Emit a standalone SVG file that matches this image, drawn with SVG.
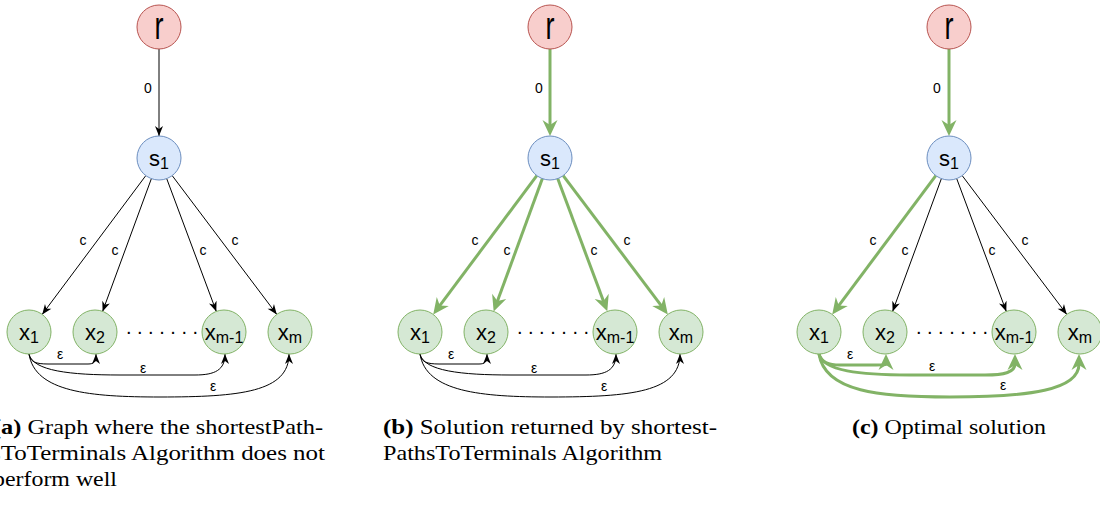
<svg xmlns="http://www.w3.org/2000/svg" width="1100" height="505" viewBox="0 0 1100 505">
<style>
  .node-r { fill: #f8cecc; stroke: #b85450; stroke-width: 1; }
  .node-s { fill: #dae8fc; stroke: #6c8ebf; stroke-width: 1; }
  .node-x { fill: #d5e8d4; stroke: #82b366; stroke-width: 1; }
  .lbl { font-family: "Liberation Sans", Arial, sans-serif; font-size: 22px; fill: #000; text-anchor: middle; }
  .big { font-size: 38px; }
  .dots { font-size: 20px; }
  .sub { font-size: 16px; }
  .elbl { font-family: "Liberation Sans", Arial, sans-serif; font-size: 14px; fill: #000; text-anchor: middle; }
  .e { fill: none; stroke: #000; stroke-width: 1; marker-end: url(#ah); }
  .eg { fill: none; stroke: #82b366; stroke-width: 3; marker-end: url(#ahg); }
  .cap { font-family: "Liberation Serif", "Times New Roman", serif; font-size: 21px; fill: #000; }
  .b { font-weight: bold; }
</style>
<defs>
  <!-- thin black arrowhead, tip at the path end -->
  <marker id="ah" markerUnits="userSpaceOnUse" markerWidth="12" markerHeight="10" viewBox="0 -5 12 10" refX="10" refY="0" orient="auto" overflow="visible">
    <path d="M0,-4 L10,0 L0,4 L3,0 Z" fill="#000"/>
  </marker>
  <!-- thick green arrowhead, tip 10px beyond the path end -->
  <marker id="ahg" markerUnits="userSpaceOnUse" markerWidth="18" markerHeight="16" viewBox="0 -8 18 16" refX="6" refY="0" orient="auto" overflow="visible">
    <path d="M0,-7.5 L16,0 L0,7.5 L5,0 Z" fill="#82b366"/>
  </marker>
</defs>

<!-- (a) input graph -->
<g id="panel-a">
  <g id="a-edges">
    <path class="e" d="M159,49 L159,136"/>
    <path class="e" d="M145.8,175.6 L42.2,314.4"/>
    <path class="e" d="M151.4,178.6 L102.6,311.4"/>
    <path class="e" d="M166.7,178.6 L216.3,311.4"/>
    <path class="e" d="M172.2,175.6 L276.8,314.4"/>
    <path class="e" d="M29,354 C30,362 36,364 48,364 L88,364 C94,364 96,362 96,354"/>
    <path class="e" d="M29,354 C33,371 70,375 120,375 L195,375 C215,375 225,370 225,354"/>
    <path class="e" d="M29,354 C35,392 90,397 160,397 C240,397 289,392 289,354"/>
    <text class="elbl" x="148" y="93">0</text>
    <text class="elbl" x="83" y="245">c</text>
    <text class="elbl" x="115" y="255">c</text>
    <text class="elbl" x="203" y="255">c</text>
    <text class="elbl" x="235" y="245">c</text>
    <text class="elbl" x="60" y="359">ε</text>
    <text class="elbl" x="143" y="373">ε</text>
    <text class="elbl" x="213" y="391">ε</text>
  </g>
  <g id="a-r"><circle class="node-r" cx="159" cy="27" r="22"/><text class="lbl big" x="159" y="39" textLength="9" lengthAdjust="spacingAndGlyphs">r</text></g>
  <g id="a-s1"><circle class="node-s" cx="159" cy="158" r="22"/><text class="lbl" x="159" y="166">s<tspan class="sub" dy="3">1</tspan></text></g>
  <g id="a-x1"><circle class="node-x" cx="29" cy="332" r="22"/><text class="lbl" x="29" y="340">x<tspan class="sub" dy="3">1</tspan></text></g>
  <g id="a-x2"><circle class="node-x" cx="95" cy="332" r="22"/><text class="lbl" x="95" y="340">x<tspan class="sub" dy="3">2</tspan></text></g>
  <g id="a-xm1"><circle class="node-x" cx="224" cy="332" r="22"/><text class="lbl" x="224" y="340">x<tspan class="sub" dy="3">m-1</tspan></text></g>
  <g id="a-xm"><circle class="node-x" cx="290" cy="332" r="22"/><text class="lbl" x="290" y="340">x<tspan class="sub" dy="3">m</tspan></text></g>
  <g id="a-dots"><text class="lbl dots" x="162" y="334">. . . . . . .</text></g>
</g>

<!-- (b) shortest paths to terminals -->
<g id="panel-b" transform="translate(391,0)">
  <g id="b-edges">
    <path class="eg" d="M159,49 L159,126"/>
    <path class="eg" d="M145.8,175.6 L48.2,306.4"/>
    <path class="eg" d="M151.4,178.6 L106.1,302"/>
    <path class="eg" d="M166.7,178.6 L212.8,302"/>
    <path class="eg" d="M172.2,175.6 L270.8,306.4"/>
    <path class="e" d="M29,354 C30,362 36,364 48,364 L88,364 C94,364 96,362 96,354"/>
    <path class="e" d="M29,354 C33,371 70,375 120,375 L195,375 C215,375 225,370 225,354"/>
    <path class="e" d="M29,354 C35,392 90,397 160,397 C240,397 289,392 289,354"/>
    <text class="elbl" x="148" y="93">0</text>
    <text class="elbl" x="84" y="245">c</text>
    <text class="elbl" x="116" y="255">c</text>
    <text class="elbl" x="203" y="255">c</text>
    <text class="elbl" x="236" y="245">c</text>
    <text class="elbl" x="60" y="359">ε</text>
    <text class="elbl" x="143" y="373">ε</text>
    <text class="elbl" x="213" y="391">ε</text>
  </g>
  <g id="b-r"><circle class="node-r" cx="159" cy="27" r="22"/><text class="lbl big" x="159" y="39" textLength="9" lengthAdjust="spacingAndGlyphs">r</text></g>
  <g id="b-s1"><circle class="node-s" cx="159" cy="158" r="22"/><text class="lbl" x="159" y="166">s<tspan class="sub" dy="3">1</tspan></text></g>
  <g id="b-x1"><circle class="node-x" cx="29" cy="332" r="22"/><text class="lbl" x="29" y="340">x<tspan class="sub" dy="3">1</tspan></text></g>
  <g id="b-x2"><circle class="node-x" cx="95" cy="332" r="22"/><text class="lbl" x="95" y="340">x<tspan class="sub" dy="3">2</tspan></text></g>
  <g id="b-xm1"><circle class="node-x" cx="224" cy="332" r="22"/><text class="lbl" x="224" y="340">x<tspan class="sub" dy="3">m-1</tspan></text></g>
  <g id="b-xm"><circle class="node-x" cx="290" cy="332" r="22"/><text class="lbl" x="290" y="340">x<tspan class="sub" dy="3">m</tspan></text></g>
  <g id="b-dots"><text class="lbl dots" x="162" y="334">. . . . . . .</text></g>
</g>

<!-- (c) optimal solution -->
<g id="panel-c" transform="translate(790,0)">
  <g id="c-edges">
    <path class="eg" d="M159,49 L159,126"/>
    <path class="eg" d="M145.8,175.6 L48.2,306.4"/>
    <path class="e" d="M151.4,178.6 L102.6,311.4"/>
    <path class="e" d="M166.7,178.6 L216.3,311.4"/>
    <path class="e" d="M172.2,175.6 L276.8,314.4"/>
    <path class="eg" d="M29,354 C31,362 38,365 50,365 L86,365 C93,365 96,365 96,364"/>
    <path class="eg" d="M29,354 C33,371 70,375 120,375 L195,375 C215,375 225,372 225,364"/>
    <path class="eg" d="M29,354 C35,392 90,397 160,397 C240,397 289,390 289,364"/>
    <text class="elbl" x="147" y="93">0</text>
    <text class="elbl" x="83" y="245">c</text>
    <text class="elbl" x="115" y="255">c</text>
    <text class="elbl" x="202" y="255">c</text>
    <text class="elbl" x="235" y="245">c</text>
    <text class="elbl" x="60" y="359">ε</text>
    <text class="elbl" x="142" y="371">ε</text>
    <text class="elbl" x="213" y="390">ε</text>
  </g>
  <g id="c-r"><circle class="node-r" cx="159" cy="27" r="22"/><text class="lbl big" x="159" y="39" textLength="9" lengthAdjust="spacingAndGlyphs">r</text></g>
  <g id="c-s1"><circle class="node-s" cx="159" cy="158" r="22"/><text class="lbl" x="159" y="166">s<tspan class="sub" dy="3">1</tspan></text></g>
  <g id="c-x1"><circle class="node-x" cx="29" cy="332" r="22"/><text class="lbl" x="29" y="340">x<tspan class="sub" dy="3">1</tspan></text></g>
  <g id="c-x2"><circle class="node-x" cx="95" cy="332" r="22"/><text class="lbl" x="95" y="340">x<tspan class="sub" dy="3">2</tspan></text></g>
  <g id="c-xm1"><circle class="node-x" cx="224" cy="332" r="22"/><text class="lbl" x="224" y="340">x<tspan class="sub" dy="3">m-1</tspan></text></g>
  <g id="c-xm"><circle class="node-x" cx="290" cy="332" r="22"/><text class="lbl" x="290" y="340">x<tspan class="sub" dy="3">m</tspan></text></g>
  <g id="c-dots"><text class="lbl dots" x="162" y="334">. . . . . . .</text></g>
</g>

<!-- captions; the left column runs past the left edge -->
<g id="captions">
  <text class="cap" x="-7" y="434" textLength="330" lengthAdjust="spacingAndGlyphs"><tspan class="b">(a)</tspan> Graph where the shortestPath-</text>
  <text class="cap" x="-9" y="460" textLength="334" lengthAdjust="spacingAndGlyphs">sToTerminals Algorithm does not</text>
  <text class="cap" x="-7" y="486" textLength="124" lengthAdjust="spacingAndGlyphs">perform well</text>
  <text class="cap" x="383" y="434" textLength="334" lengthAdjust="spacingAndGlyphs"><tspan class="b">(b)</tspan> Solution returned by shortest-</text>
  <text class="cap" x="383" y="460" textLength="279" lengthAdjust="spacingAndGlyphs">PathsToTerminals Algorithm</text>
  <text class="cap" x="852" y="434" textLength="194" lengthAdjust="spacingAndGlyphs"><tspan class="b">(c)</tspan> Optimal solution</text>
</g>
</svg>
